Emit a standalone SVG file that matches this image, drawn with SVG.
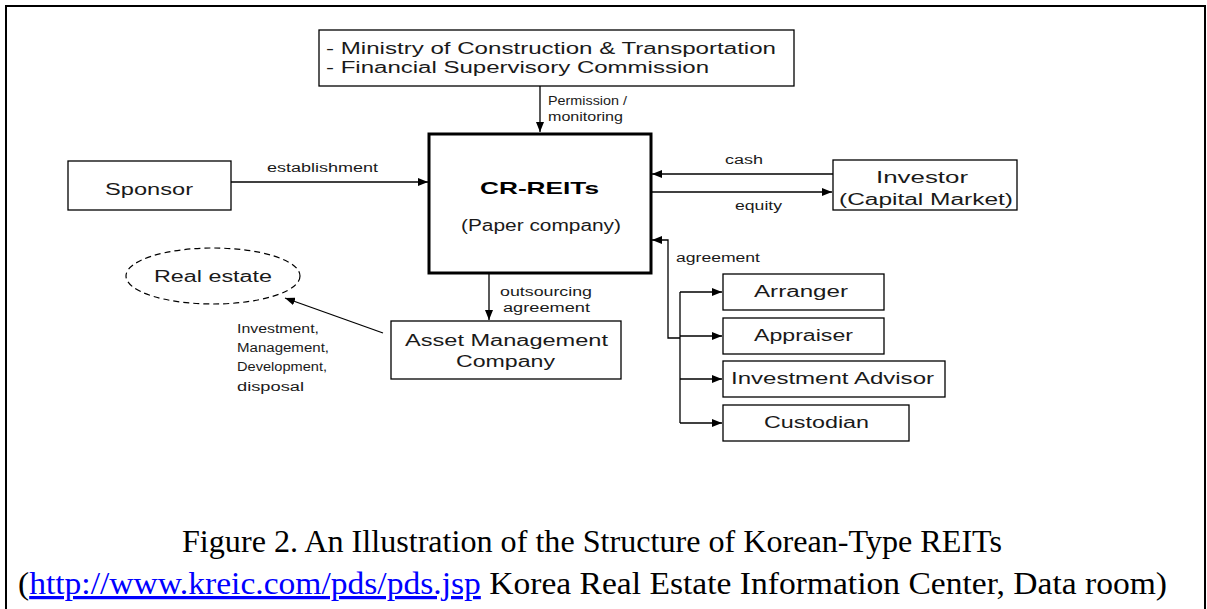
<svg xmlns="http://www.w3.org/2000/svg" width="1207" height="609" viewBox="0 0 1207 609">
<style>
.box{fill:#fff;stroke:#000;stroke-width:1.3}
.thick{fill:#fff;stroke:#000;stroke-width:3}
.t{font-family:"Liberation Sans",Arial,sans-serif;font-size:16px;fill:#1a1a1a}
.s{font-family:"Liberation Sans",Arial,sans-serif;font-size:12.5px;fill:#1a1a1a}
.b{font-family:"Liberation Sans",Arial,sans-serif;font-size:17px;font-weight:bold;fill:#000}
.cap{font-family:"Liberation Serif","Times New Roman",serif;font-size:32px;fill:#000}
.ln{fill:none;stroke:#000;stroke-width:1.3}
</style>
<defs>
<marker id="ah" viewBox="0 0 10 8" refX="10" refY="4" markerWidth="10" markerHeight="8" markerUnits="userSpaceOnUse" orient="auto">
<path d="M0,0 L10,4 L0,8 Z" fill="#000"/>
</marker>
</defs>
<rect x="0" y="0" width="1207" height="609" fill="#fff"/>
<path d="M6,609 V6 H1205 V609" fill="none" stroke="#000" stroke-width="2"/>

<g id="ministry">
<rect class="box" x="319" y="30" width="475" height="56"/>
<text class="t" x="326" y="54" textLength="450" lengthAdjust="spacingAndGlyphs">- Ministry of Construction &amp; Transportation</text>
<text class="t" x="326" y="73" textLength="383" lengthAdjust="spacingAndGlyphs">- Financial Supervisory Commission</text>
</g>

<g id="crreits">
<rect class="thick" x="429" y="134" width="222" height="139"/>
<text class="b" x="480" y="194" textLength="119" lengthAdjust="spacingAndGlyphs">CR-REITs</text>
<text class="t" x="461" y="231" textLength="160" lengthAdjust="spacingAndGlyphs">(Paper company)</text>
</g>

<g id="sponsor">
<rect class="box" x="68" y="161" width="163" height="49"/>
<text class="t" x="105" y="195" textLength="88" lengthAdjust="spacingAndGlyphs">Sponsor</text>
</g>

<g id="investor">
<rect class="box" x="833" y="160" width="184" height="50"/>
<text class="t" x="876" y="183" textLength="92" lengthAdjust="spacingAndGlyphs">Investor</text>
<text class="t" x="839" y="205" textLength="174" lengthAdjust="spacingAndGlyphs">(Capital Market)</text>
</g>

<g id="realestate">
<ellipse cx="213" cy="276" rx="87" ry="28" fill="#fff" stroke="#000" stroke-width="1.2" stroke-dasharray="6,4"/>
<text class="t" x="154" y="282" textLength="118" lengthAdjust="spacingAndGlyphs">Real estate</text>
</g>

<g id="amc">
<rect class="box" x="391" y="321" width="230" height="58"/>
<text class="t" x="405" y="346" textLength="203" lengthAdjust="spacingAndGlyphs">Asset Management</text>
<text class="t" x="456" y="367" textLength="99" lengthAdjust="spacingAndGlyphs">Company</text>
</g>

<g id="arranger">
<rect class="box" x="723" y="274" width="161" height="36"/>
<text class="t" x="754" y="297" textLength="94" lengthAdjust="spacingAndGlyphs">Arranger</text>
</g>
<g id="appraiser">
<rect class="box" x="723" y="318" width="161" height="36"/>
<text class="t" x="754" y="341" textLength="99" lengthAdjust="spacingAndGlyphs">Appraiser</text>
</g>
<g id="advisor">
<rect class="box" x="723" y="361" width="222" height="36"/>
<text class="t" x="731" y="384" textLength="203" lengthAdjust="spacingAndGlyphs">Investment Advisor</text>
</g>
<g id="custodian">
<rect class="box" x="723" y="405" width="186" height="36"/>
<text class="t" x="764" y="428" textLength="105" lengthAdjust="spacingAndGlyphs">Custodian</text>
</g>

<g id="connectors">
<path class="ln" d="M540,86 V132" marker-end="url(#ah)"/>
<path class="ln" d="M231,182 H428" marker-end="url(#ah)"/>
<path class="ln" d="M833,174 H652" marker-end="url(#ah)"/>
<path class="ln" d="M652,192 H832" marker-end="url(#ah)"/>
<path class="ln" d="M680,338 H668 V240 H652" marker-end="url(#ah)"/>
<path class="ln" d="M680,292 V423"/>
<path class="ln" d="M680,292 H722" marker-end="url(#ah)"/>
<path class="ln" d="M680,336 H722" marker-end="url(#ah)"/>
<path class="ln" d="M680,379 H722" marker-end="url(#ah)"/>
<path class="ln" d="M680,423 H722" marker-end="url(#ah)"/>
<path class="ln" d="M489,274 V320" marker-end="url(#ah)"/>
<path class="ln" d="M383,333 L285,298" marker-end="url(#ah)"/>
<text class="s" x="548" y="105" textLength="79" lengthAdjust="spacingAndGlyphs">Permission /</text>
<text class="s" x="548" y="121" textLength="75" lengthAdjust="spacingAndGlyphs">monitoring</text>
<text class="s" x="267" y="172" textLength="111" lengthAdjust="spacingAndGlyphs">establishment</text>
<text class="s" x="725" y="164" textLength="38" lengthAdjust="spacingAndGlyphs">cash</text>
<text class="s" x="735" y="210" textLength="47" lengthAdjust="spacingAndGlyphs">equity</text>
<text class="s" x="676" y="262" textLength="84" lengthAdjust="spacingAndGlyphs">agreement</text>
<text class="s" x="500" y="296" textLength="92" lengthAdjust="spacingAndGlyphs">outsourcing</text>
<text class="s" x="503" y="312" textLength="87" lengthAdjust="spacingAndGlyphs">agreement</text>
<text class="s" x="237" y="333" textLength="82" lengthAdjust="spacingAndGlyphs">Investment,</text>
<text class="s" x="237" y="352" textLength="92" lengthAdjust="spacingAndGlyphs">Management,</text>
<text class="s" x="237" y="371" textLength="90" lengthAdjust="spacingAndGlyphs">Development,</text>
<text class="s" x="237" y="391" textLength="67" lengthAdjust="spacingAndGlyphs">disposal</text>
</g>

<g id="caption">
<text class="cap" x="182" y="552" textLength="820" lengthAdjust="spacingAndGlyphs">Figure 2. An Illustration of the Structure of Korean-Type REITs</text>
<text class="cap" x="18" y="594" textLength="1149" lengthAdjust="spacingAndGlyphs">(<tspan fill="#0000ff" text-decoration="underline">http://www.kreic.com/pds/pds.jsp</tspan> Korea Real Estate Information Center, Data room)</text>
</g>
</svg>
